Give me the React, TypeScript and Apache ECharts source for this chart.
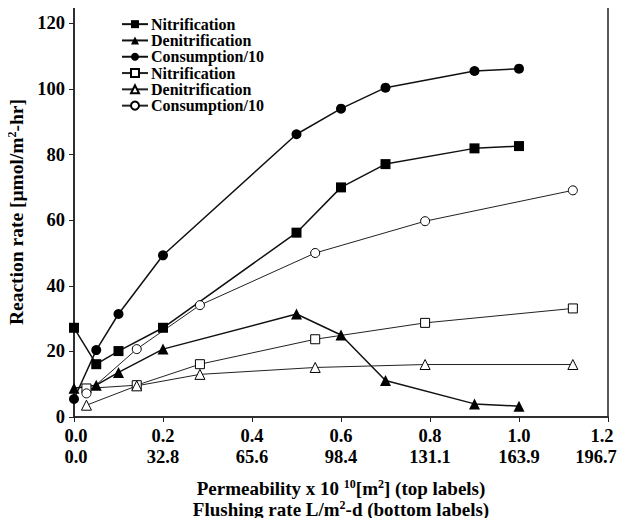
import React, { useEffect, useRef } from "react";
import * as echarts from "echarts";

const xFilled = [0, 0.05, 0.1, 0.2, 0.5, 0.6, 0.7, 0.9, 1.0];
const nitrFilled = [27.2, 16.1, 20.1, 27.2, 56.2, 70.0, 77.1, 81.9, 82.6];
const denitFilled = [8.8, 9.7, 13.6, 20.7, 31.4, 25.0, 11.1, 4.0, 3.3];
const consFilled = [5.5, 20.4, 31.4, 49.3, 86.2, 94.0, 100.4, 105.5, 106.2];

const xOpen = [0.028, 0.141, 0.283, 0.542, 0.789, 1.121];
const nitrOpen = [8.7, 9.7, 16.1, 23.7, 28.7, 33.1];
const denitOpen = [3.6, 9.5, 13.0, 15.1, 16.0, 16.0];
const consOpen = [7.2, 20.7, 34.1, 50.0, 59.7, 69.1];

const topLabels = ["0.0", "0.2", "0.4", "0.6", "0.8", "1.0", "1.2"];
const bottomLabels = ["0.0", "32.8", "65.6", "98.4", "131.1", "163.9", "196.7"];

const FONT = "'Liberation Serif', 'Times New Roman', serif";

function pairs(xs: number[], ys: number[]) {
  return xs.map((x, i) => [x, ys[i]]);
}

export default function App() {
  const ref = useRef<HTMLDivElement>(null);
  useEffect(() => {
    if (!ref.current) return;
    const chart = echarts.init(ref.current, null, { renderer: "svg" });
    const filledStyle = (symbol: string, size: number) => ({
      type: "line" as const,
      symbol,
      symbolSize: size,
      lineStyle: { color: "#111", width: 1.5 },
      itemStyle: { color: "#000", borderColor: "#000", borderWidth: 0 },
    });
    const openStyle = (symbol: string, size: number) => ({
      type: "line" as const,
      symbol,
      symbolSize: size,
      lineStyle: { color: "#222", width: 1 },
      itemStyle: { color: "#fff", borderColor: "#000", borderWidth: 1 },
    });
    const supStyle = { fontFamily: FONT, fontWeight: "bold", fontSize: 12, color: "#000", padding: [0, 0, 9, 0] };
    const lbl = { fontFamily: FONT, fontWeight: "bold", fontSize: 18.5, color: "#000", lineHeight: 21 };
    chart.setOption({
      animation: false,
      grid: {
        left: 74,
        right: 17,
        top: 7,
        bottom: 109,
        show: true,
        borderColor: "#222",
        borderWidth: 1.5,
        containLabel: false,
        outerBoundsMode: "none",
      },
      legend: {
        orient: "vertical",
        left: 116,
        top: 11,
        itemWidth: 26,
        itemHeight: 10,
        itemGap: 0,
        formatter: (n: string) => n.trim(),
        textStyle: { fontFamily: FONT, fontWeight: "bold", fontSize: 16, color: "#000", lineHeight: 16.3, padding: [0, 0, 0, -2] },
        data: ["Nitrification", "Denitrification", "Consumption/10", "Nitrification ", "Denitrification ", "Consumption/10 "],
      },
      xAxis: {
        type: "value",
        min: 0,
        max: 1.2,
        interval: 0.2,
        splitLine: { show: false },
        axisLine: { lineStyle: { color: "#222", width: 1.5 } },
        axisTick: { length: 5, lineStyle: { color: "#222" } },
        axisLabel: {
          margin: 8,
          ...lbl,
          rich: {
            lastTop: { ...lbl, padding: [0, 12, 0, 0] },
            lastBot: { ...lbl, padding: [0, 24, 0, 0] },
            first: { ...lbl, padding: [0, 0, 0, 4] },
          },
          formatter: (v: number) => {
            const i = Math.round(v / 0.2);
            if (i === topLabels.length - 1) return "{lastTop|" + topLabels[i] + "}\n{lastBot|" + bottomLabels[i] + "}";
            if (i === 0) return "{first|" + topLabels[i] + "}\n{first|" + bottomLabels[i] + "}";
            return topLabels[i] + "\n" + bottomLabels[i];
          },
        },
      },
      yAxis: {
        type: "value",
        min: 0,
        max: 125,
        interval: 20,
        splitLine: { show: false },
        axisLine: { lineStyle: { color: "#222", width: 1.5 } },
        axisTick: { length: 5, lineStyle: { color: "#222" } },
        axisLabel: { showMaxLabel: false, margin: 9, fontFamily: FONT, fontWeight: "bold", fontSize: 18.5, color: "#000" },
        name: "Reaction rate [\u03bcmol/m{sup|2}-hr]",
        nameLocation: "middle",
        nameGap: 46,
        nameTextStyle: {
          fontFamily: FONT,
          fontWeight: "bold",
          fontSize: 19.5,
          color: "#000",
          rich: { sup: supStyle },
        },
      },
      graphic: [
        {
          type: "text",
          x: 341,
          y: 488,
          style: {
            text: "Permeability x 10 {sup|10}[m{sup|2}] (top labels)",
            fontFamily: FONT,
            fontWeight: "bold",
            fontSize: 19,
            fill: "#000",
            align: "center",
            verticalAlign: "middle",
            rich: { sup: { ...supStyle, fill: "#000" } },
          },
        },
        {
          type: "text",
          x: 341,
          y: 509,
          style: {
            text: "Flushing rate L/m{sup|2}-d (bottom labels)",
            fontFamily: FONT,
            fontWeight: "bold",
            fontSize: 19,
            fill: "#000",
            align: "center",
            verticalAlign: "middle",
            rich: { sup: { ...supStyle, fill: "#000" } },
          },
        },
      ],
      series: [
        { name: "Nitrification", ...filledStyle("rect", 10), data: pairs(xFilled, nitrFilled) },
        { name: "Denitrification", ...filledStyle("triangle", 11), data: pairs(xFilled, denitFilled) },
        { name: "Consumption/10", ...filledStyle("circle", 10), data: pairs(xFilled, consFilled) },
        { name: "Nitrification ", ...openStyle("rect", 9), data: pairs(xOpen, nitrOpen) },
        { name: "Denitrification ", ...openStyle("triangle", 10), data: pairs(xOpen, denitOpen) },
        { name: "Consumption/10 ", ...openStyle("circle", 9), data: pairs(xOpen, consOpen) },
      ],
    });
    return () => chart.dispose();
  }, []);
  return <div ref={ref} style={{ width: 625, height: 526, margin: -8 }} />;
}
